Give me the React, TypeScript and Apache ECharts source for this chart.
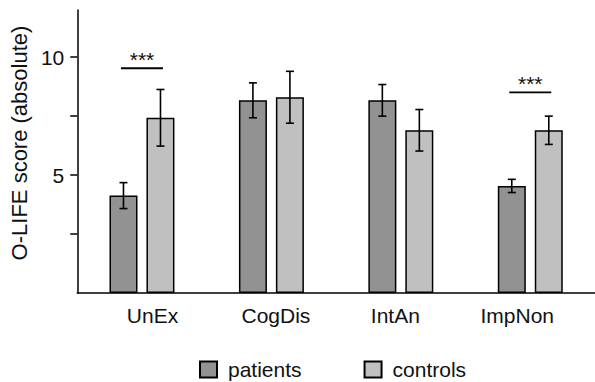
import React, { useEffect, useRef } from 'react';
import * as echarts from 'echarts';

const categories = ['UnEx', 'CogDis', 'IntAn', 'ImpNon'];
const patientsMean = [4.13, 8.17, 8.17, 4.54];
const patientsErr = [0.55, 0.74, 0.67, 0.28];
const controlsMean = [7.43, 8.3, 6.9, 6.9];
const controlsErr = [1.2, 1.1, 0.88, 0.6];
const yTickValues = [2.5, 5, 7.5, 10];
const yLabelValues = [5, 10];
const sigCategoryIndex = [0, 3];
const sigLevel = [9.53, 8.51];
const sigLabel = ['***', '***'];

const FONT = '"Liberation Sans", Arial, sans-serif';
const TEXT = '#111';
const BAR_OFFSET = 18.5;

const errorRender = (offset: number) => (params: any, api: any) => {
  const idx = api.value(0);
  const mean = api.value(1);
  const err = api.value(2);
  const hi = api.coord([idx, mean + err]);
  const lo = api.coord([idx, mean - err]);
  const x = hi[0] + offset;
  const style = { stroke: '#000', lineWidth: 1.6 };
  return {
    type: 'group',
    children: [
      { type: 'line', shape: { x1: x, y1: hi[1], x2: x, y2: lo[1] }, style },
      { type: 'line', shape: { x1: x - 4, y1: hi[1], x2: x + 4, y2: hi[1] }, style },
      { type: 'line', shape: { x1: x - 4, y1: lo[1], x2: x + 4, y2: lo[1] }, style },
    ],
  };
};

const sigRender = (params: any, api: any) => {
  const idx = api.value(0);
  const level = api.value(1);
  const p = api.coord([idx, level]);
  const label = sigLabel[params.dataIndex];
  return {
    type: 'group',
    children: [
      { type: 'line', shape: { x1: p[0] - 21, y1: p[1], x2: p[0] + 21, y2: p[1] }, style: { stroke: '#000', lineWidth: 1.8 } },
      {
        type: 'text',
        x: p[0],
        y: p[1] - 8.5,
        style: { text: label, fontSize: 21, fontFamily: FONT, fill: TEXT, align: 'center', verticalAlign: 'middle' },
      },
    ],
  };
};

export default function App() {
  const ref = useRef<HTMLDivElement>(null);
  useEffect(() => {
    if (!ref.current) return;
    const chart = echarts.init(ref.current, undefined, { renderer: 'svg' });
    const labelRich: any = {
      c0: { fontSize: 21, fontFamily: FONT, color: TEXT, padding: [0, 0, 0, 21] },
      c1: { fontSize: 21, fontFamily: FONT, color: TEXT, padding: [0, 0, 0, 9] },
      c2: { fontSize: 21, fontFamily: FONT, color: TEXT, padding: [0, 11, 0, 0] },
      c3: { fontSize: 21, fontFamily: FONT, color: TEXT, padding: [0, 26, 0, 0] },
    };
    chart.setOption({
      animation: false,
      backgroundColor: '#fff',
      textStyle: { fontFamily: FONT },
      grid: { left: 71, top: 10, bottom: 89, right: -6, containLabel: false },
      legend: {
        data: ['patients', 'controls'],
        left: 194,
        top: 354,
        icon: 'rect',
        itemWidth: 17,
        itemHeight: 16,
        itemGap: 62,
        textStyle: { fontSize: 21, fontFamily: FONT, color: TEXT, padding: [0, 0, 0, 6] },
      },
      xAxis: {
        type: 'category',
        data: categories,
        axisLine: { show: true, lineStyle: { color: '#000', width: 1.5 } },
        axisTick: { show: false },
        axisLabel: {
          margin: 12,
          formatter: (v: string, i: number) => `{c${i}|${v}}`,
          rich: labelRich,
        },
        splitLine: { show: false },
      },
      yAxis: {
        type: 'value',
        min: 0,
        max: 12,
        axisLine: { show: true, lineStyle: { color: '#000', width: 1.5 } },
        axisTick: { show: true, inside: false, length: 7, customValues: yTickValues, lineStyle: { color: '#000', width: 1.5 } },
        axisLabel: { customValues: yLabelValues, fontSize: 21, fontFamily: FONT, color: TEXT, margin: 13 },
        splitLine: { show: false },
        name: 'O-LIFE score (absolute)',
        nameLocation: 'middle',
        nameRotate: 90,
        nameGap: 40,
        nameTextStyle: { fontSize: 22, fontFamily: FONT, color: TEXT, padding: [0, 0, 0, 17] },
      },
      series: [
        {
          name: 'patients',
          type: 'bar',
          data: patientsMean,
          barWidth: 28,
          barGap: '32%',
          itemStyle: { color: '#929292', borderColor: '#000', borderWidth: 1.5 },
        },
        {
          name: 'controls',
          type: 'bar',
          data: controlsMean,
          barWidth: 28,
          barGap: '32%',
          itemStyle: { color: '#c0c0c0', borderColor: '#000', borderWidth: 1.5 },
        },
        {
          type: 'custom',
          renderItem: errorRender(-BAR_OFFSET),
          data: patientsMean.map((m, i) => [i, m, patientsErr[i]]),
          encode: { x: 0, y: 1 },
          z: 5,
        },
        {
          type: 'custom',
          renderItem: errorRender(BAR_OFFSET),
          data: controlsMean.map((m, i) => [i, m, controlsErr[i]]),
          encode: { x: 0, y: 1 },
          z: 5,
        },
        {
          type: 'custom',
          renderItem: sigRender,
          data: sigCategoryIndex.map((c, i) => [c, sigLevel[i]]),
          encode: { x: 0, y: 1 },
          z: 5,
        },
      ],
    });
    return () => chart.dispose();
  }, []);
  return <div ref={ref} style={{ width: 595, height: 382, position: 'absolute', left: 0, top: 0 }} />;
}
